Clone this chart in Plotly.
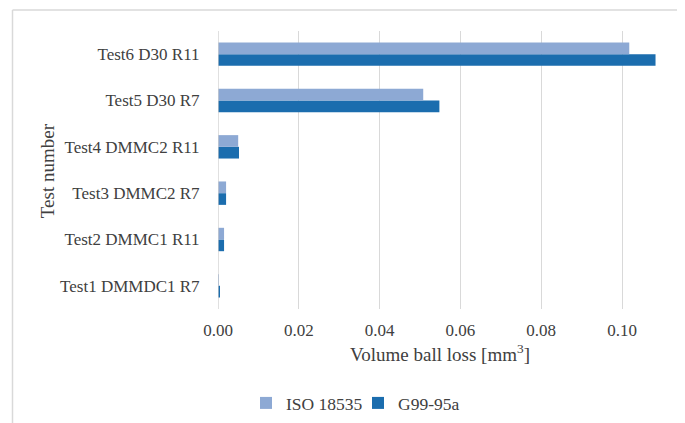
import plotly.graph_objects as go

categories = ["Test1 DMMDC1 R7", "Test2 DMMC1 R11", "Test3 DMMC2 R7",
              "Test4 DMMC2 R11", "Test5 D30 R7", "Test6 D30 R11"]
iso_18535 = [0.0002, 0.0015, 0.0020, 0.0050, 0.0508, 0.1018]
g99_95a = [0.0003, 0.0015, 0.0020, 0.0052, 0.0548, 0.1083]
x_ticks = [0.00, 0.02, 0.04, 0.06, 0.08, 0.10]
x_tick_labels = ["0.00", "0.02", "0.04", "0.06", "0.08", "0.10"]

FONT = "Liberation Serif, Times New Roman, serif"
TXT = "#404040"

# page has an 8px body margin: work in reference pixel coords, shift by OFF
OFF = 8
W, H = 685 - OFF, 423 - OFF


def px(x):
    return x - OFF


fig = go.Figure()
fig.add_trace(go.Bar(y=categories, x=g99_95a, orientation="h", name="G99-95a",
                     marker=dict(color="#1B6DAE", line=dict(width=0)), legendrank=2))
fig.add_trace(go.Bar(y=categories, x=iso_18535, orientation="h", name="ISO 18535",
                     marker=dict(color="#8DA9D4", line=dict(width=0)), legendrank=1))

L = px(218)
T = px(31)
B = H - px(308.6)
R = 0
PW = W - L
PH = H - T - B


def fx(x):
    return (px(x) - L) / PW


def fy(y):
    return (H - B - px(y)) / PH


fig.update_layout(
    width=W, height=H,
    margin=dict(l=L, r=R, t=T, b=B, autoexpand=False),
    paper_bgcolor="white", plot_bgcolor="white",
    barmode="group", bargap=0.495, bargroupgap=0,
    font=dict(family=FONT, size=17, color=TXT),
    xaxis=dict(range=[0, PW / 4040.0], tickvals=x_ticks, ticktext=x_tick_labels,
               showgrid=True, gridcolor="#D9D9D9", gridwidth=1.3,
               zeroline=False, showline=False,
               ticks="outside", ticklen=6, tickcolor="rgba(0,0,0,0)", fixedrange=True,
               tickfont=dict(family=FONT, size=17, color=TXT)),
    yaxis=dict(categoryorder="array", categoryarray=categories,
               showgrid=False, zeroline=False, showline=False,
               ticks="outside", ticklen=14, tickcolor="rgba(0,0,0,0)",
               tickfont=dict(family=FONT, size=17, color=TXT)),
    showlegend=True,
    legend=dict(orientation="h", x=fx(246), xanchor="left",
                y=fy(402.5), yanchor="middle",
                font=dict(family=FONT, size=17.5, color=TXT), itemwidth=30,
                entrywidth=67, entrywidthmode="pixels",
                bgcolor="rgba(0,0,0,0)"),
    shapes=[
        dict(type="line", xref="x", yref="paper", x0=0, x1=0, y0=0, y1=1,
             line=dict(color="#D0D0D0", width=1.3)),
        dict(type="line", xref="paper", yref="paper",
             x0=fx(12.5), x1=fx(12.5), y0=fy(430), y1=fy(10),
             line=dict(color="#D9D9D9", width=1.5)),
        dict(type="line", xref="paper", yref="paper",
             x0=fx(12.5), x1=1.0, y0=fy(10), y1=fy(10),
             line=dict(color="#D9D9D9", width=1.5)),
    ],
    annotations=[
        dict(text="Volume ball loss [mm<sup>3</sup>]", xref="paper", yref="paper",
             x=fx(439.5), y=fy(353), xanchor="center", yanchor="middle", showarrow=False,
             font=dict(family=FONT, size=19, color=TXT)),
        dict(text="Test number", xref="paper", yref="paper",
             x=fx(47), y=fy(171), textangle=-90,
             xanchor="center", yanchor="middle", showarrow=False,
             font=dict(family=FONT, size=19, color=TXT)),
    ],
)

fig.write_html("out.html")
